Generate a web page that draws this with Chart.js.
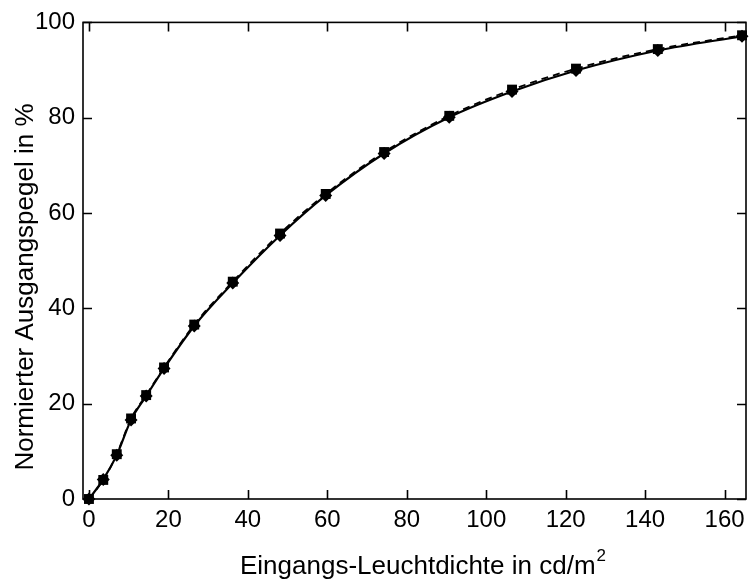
<!DOCTYPE html>
<html>
<head>
<meta charset="utf-8">
<script src="https://cdn.jsdelivr.net/npm/chart.js@4/dist/chart.umd.min.js"></script>
<style>
  html, body { margin: 0; padding: 0; background: #fff; }
  #wrap { width: 755px; height: 588px; }
</style>
</head>
<body>
<div id="wrap"><canvas id="lumChart" width="755" height="588"></canvas></div>
<script>
// values
const inputLum = [0, 3.6, 7.0, 10.6, 14.4, 18.9, 26.5, 36.2, 48.1, 59.6, 74.3, 90.7, 106.5, 122.6, 143.2, 164.4];
const outputSolid = [0, 4.1, 9.2, 16.6, 21.6, 27.4, 36.3, 45.3, 55.3, 63.7, 72.5, 80.1, 85.5, 89.9, 94.1, 97.1];
const outputDashed = [0, 4.0, 9.4, 16.9, 21.8, 27.6, 36.6, 45.6, 55.7, 64.0, 72.8, 80.4, 85.9, 90.3, 94.4, 97.3];
const xTicks = [0, 20, 40, 60, 80, 100, 120, 140, 160];
const yTicks = [0, 20, 40, 60, 80, 100];
const xTitle = 'Eingangs-Leuchtdichte in cd/m';
const xTitleSup = '2';
const yTitle = 'Normierter Ausgangspegel in %';

const FONT = '"Liberation Sans", Arial, sans-serif';

function toPoints(xs, ys) {
    return xs.map((x, i) => ({ x: x, y: ys[i] }));
}

// frame with inward ticks on all four sides
const framePlugin = {
    id: 'frame',
    beforeDatasetsDraw(chart) {
        const ctx = chart.ctx;
        const a = chart.chartArea;
        const xs = chart.scales.x;
        const ys = chart.scales.y;
        const len = 9;
        ctx.save();
        ctx.strokeStyle = '#000';
        ctx.lineWidth = 1.6;
        ctx.strokeRect(a.left, a.top, a.right - a.left, a.bottom - a.top);
        ctx.beginPath();
        xTicks.forEach(v => {
            const px = Math.round(xs.getPixelForValue(v)) + 0.5;
            ctx.moveTo(px, a.bottom);
            ctx.lineTo(px, a.bottom - len);
            ctx.moveTo(px, a.top);
            ctx.lineTo(px, a.top + len);
        });
        yTicks.forEach(v => {
            const py = Math.round(ys.getPixelForValue(v)) + 0.5;
            ctx.moveTo(a.left, py);
            ctx.lineTo(a.left + len, py);
            ctx.moveTo(a.right, py);
            ctx.lineTo(a.right - len, py);
        });
        ctx.stroke();
        ctx.restore();
    },
    afterDraw(chart) {
        const ctx = chart.ctx;
        const a = chart.chartArea;
        ctx.save();
        ctx.fillStyle = '#000';
        ctx.textBaseline = 'alphabetic';

        // x title with superscript
        ctx.font = '26px ' + FONT;
        const w1 = ctx.measureText(xTitle).width;
        ctx.font = '17px ' + FONT;
        const w2 = ctx.measureText(xTitleSup).width;
        const cx = (a.left + a.right) / 2 + 8;
        let start = cx - (w1 + w2) / 2;
        ctx.font = '26px ' + FONT;
        ctx.textAlign = 'left';
        ctx.fillText(xTitle, start, 574);
        ctx.font = '17px ' + FONT;
        ctx.fillText(xTitleSup, start + w1 + 1, 561);

        // y title, rotated
        ctx.translate(33, 287);
        ctx.rotate(-Math.PI / 2);
        ctx.font = '26px ' + FONT;
        ctx.textAlign = 'center';
        ctx.fillText(yTitle, 0, 0);
        ctx.restore();
    }
};

new Chart(document.getElementById('lumChart'), {
    type: 'line',
    data: {
        datasets: [
            {
                label: 'gemessen',
                data: toPoints(inputLum, outputDashed),
                borderColor: '#000',
                backgroundColor: '#000',
                borderWidth: 1.8,
                borderDash: [7, 5],
                pointStyle: 'rect',
                pointRadius: 7,
                pointBorderWidth: 0,
                cubicInterpolationMode: 'monotone',
                clip: false
            },
            {
                label: 'berechnet',
                data: toPoints(inputLum, outputSolid),
                borderColor: '#000',
                backgroundColor: '#000',
                borderWidth: 2.2,
                pointStyle: 'rectRot',
                pointRadius: 6.5,
                pointBorderWidth: 0,
                cubicInterpolationMode: 'monotone',
                clip: false
            }
        ]
    },
    options: {
        responsive: false,
        animation: false,
        layout: { padding: { left: 0, top: 22, right: 9, bottom: 0 } },
        plugins: {
            legend: { display: false },
            tooltip: { enabled: false }
        },
        scales: {
            x: {
                type: 'linear',
                min: -1.5,
                max: 165.4,
                afterBuildTicks: s => { s.ticks = xTicks.map(v => ({ value: v })); },
                afterFit: s => { s.height = 89; },
                grid: { display: false, drawTicks: false },
                border: { display: false },
                ticks: {
                    autoSkip: false,
                    maxRotation: 0,
                    padding: 7,
                    color: '#000',
                    font: { family: FONT, size: 24 }
                }
            },
            y: {
                type: 'linear',
                min: 0,
                max: 100,
                afterBuildTicks: s => { s.ticks = yTicks.map(v => ({ value: v })); },
                afterFit: s => { s.width = 83; },
                grid: { display: false, drawTicks: false },
                border: { display: false },
                ticks: {
                    autoSkip: false,
                    padding: 8,
                    color: '#000',
                    font: { family: FONT, size: 24 }
                }
            }
        }
    },
    plugins: [framePlugin]
});
</script>
</body>
</html>
